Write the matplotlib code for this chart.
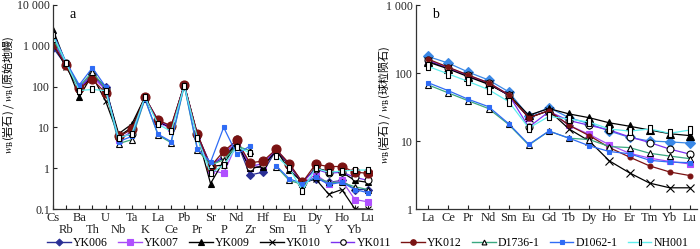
import numpy as np
import matplotlib
matplotlib.use('Agg')
import matplotlib.pyplot as plt
from matplotlib.ticker import FixedLocator, FuncFormatter, NullLocator

plt.rcParams['font.family'] = ['Liberation Serif', 'DejaVu Serif']
plt.rcParams['mathtext.fontset'] = 'stix'

nan = np.nan

# ---------------- data ----------------
pm_elements = ['Cs', 'Rb', 'Ba', 'Th', 'U', 'Nb', 'Ta', 'K', 'La', 'Ce', 'Pb', 'Pr', 'Sr',
               'P', 'Nd', 'Zr', 'Hf', 'Sm', 'Eu', 'Ti', 'Dy', 'Y', 'Ho', 'Yb', 'Lu']
ree_elements = ['La', 'Ce', 'Pr', 'Nd', 'Sm', 'Eu', 'Gd', 'Tb', 'Dy', 'Ho', 'Er', 'Tm', 'Yb', 'Lu']
sample_names = ['YK006', 'YK007', 'YK009', 'YK010', 'YK011', 'YK012', 'D1736-1', 'D1062-1', 'NH001']

# primitive-mantle normalised
YK006_pm = [900, 330, 95, 200, 100, 6.0, 9.0, 55, 14, 10, 110, 6.5, 1.2, 1.8, 4.5, 0.68, 0.80, 2.8, 1.2, 0.42, 0.55, 0.45, 0.50, 0.30, 0.30]
YK007_pm = [1200, 350, 90, 170, 85, 5.0, 8.0, 55, 13, 9.5, 105, 6.0, 0.90, 0.75, 4.0, 1.0, 1.15, 2.7, 1.2, 0.42, 0.70, 0.42, 0.50, 0.17, 0.15]
YK009_pm = [2500, 360, 55, 200, 90, 7.0, 12, 55, 14, 10, 110, 6.5, 0.42, 1.5, 4.5, 1.0, 1.1, 2.8, 0.90, 0.45, 1.0, 0.85, 0.80, 0.50, 0.45]
YK010_pm = [1100, 300, 85, 180, 45, 6.0, 10, 55, 14, 10, 105, 6.5, 1.1, 1.2, 4.2, 1.0, 1.1, 2.7, 1.2, 0.45, 0.55, 0.23, 0.30, 0.10, 0.10]
YK011_pm = [1300, 370, 90, 200, 85, 5.5, 7.0, 55, 15, 10, 110, 6.5, 1.2, 2.0, 5.3, 1.1, 1.3, 2.9, 1.25, 0.45, 0.95, 0.75, 0.80, 0.60, 0.50]
YK012_pm = [1100, 330, 90, 150, 70, 6.0, 9.0, 55, 15, 11, 110, 7.0, 1.1, 2.6, 4.8, 1.35, 1.5, 2.9, 1.3, 0.45, 1.25, 1.1, 1.1, 0.80, 0.75]
D1736_pm = [1500, 380, 100, 230, 90, 4.0, 5.0, 50, 6.5, 4.2, 105, 2.8, 1.2, 1.6, 3.5, 2.7, nan, 1.1, 0.50, 0.40, 0.60, 0.45, 0.45, 0.35, 0.30]
D1062_pm = [2000, 400, 110, 290, 100, 4.5, 6.0, 50, 6.8, 4.5, 110, 3.0, 1.4, 10, 2.2, 3.5, nan, 1.15, 0.55, 0.42, 0.60, 0.40, 0.45, 0.30, 0.25]
NH001_pm = [1800, 380, 80, 85, 80, 5.5, 7.0, 55, 12, 8.0, 105, 5.5, 0.75, 1.2, 3.3, 2.4, nan, 2.0, 1.0, 0.28, 1.0, 0.80, 0.85, 0.90, 0.90]

# chondrite normalised
YK006_ch = [175, 140, 103, 79, 53, 23, 31, 22, 18, 14, 11.3, 10, 9.7, 9.3]
YK007_ch = [150, 118, 90, 70, 47, 22, 28, 17, 12.5, 8.8, 6.6, 5.6, 5.0, 4.6]
YK009_ch = [145, 115, 88, 68, 48, 24, 30, 25, 22, 18.5, 16.5, 14.5, 12.8, 12]
YK010_ch = [150, 118, 90, 70, 47, 22, 28, 15, 10, 5.1, 3.4, 2.4, 2.05, 2.05]
YK011_ch = [155, 120, 92, 72, 48, 16, 27, 20, 17, 14.5, 11.5, 9.5, 7.6, 6.4]
YK012_ch = [160, 122, 93, 72, 48, 22, 28, 17, 12, 8.0, 5.8, 4.3, 3.5, 3.1]
D1736_ch = [67, 51, 39, 30, 17.5, 8.7, 14, 11, 10.5, 8.3, 8.0, 6.6, 6.0, 5.5]
D1062_ch = [72, 55, 41, 32, 18, 8.9, 14, 11, 8.5, 7.0, 6.5, 5.2, 4.9, 4.8]
NH001_ch = [125, 97, 75, 57, 38, 15.5, 23, 21, 19, 15, 14, 15, 13, 14.5]

pm_data = [YK006_pm, YK007_pm, YK009_pm, YK010_pm, YK011_pm, YK012_pm, D1736_pm, D1062_pm, NH001_pm]
ch_data = [YK006_ch, YK007_ch, YK009_ch, YK010_ch, YK011_ch, YK012_ch, D1736_ch, D1062_ch, NH001_ch]

# ---------------- styles ----------------
rect = [(-0.45, -1), (0.45, -1), (0.45, 1), (-0.45, 1), (-0.45, -1)]
styles = [
    dict(color='#2a2f95', marker='D', mfc='#2a2f95', mec='#2a2f95'),
    dict(color='#a64cf5', marker='s', mfc='#b050ff', mec='#b050ff'),
    dict(color='black', marker='^', mfc='black', mec='black'),
    dict(color='black', marker='x', mfc='none', mec='black'),
    dict(color='#7b30f0', marker='o', mfc='white', mec='black'),
    dict(color='#7a1212', marker='o', mfc='#7a1212', mec='#7a1212'),
    dict(color='#3aa880', marker='^', mfc='white', mec='black'),
    dict(color='#2f6cf5', marker='s', mfc='#2f6cf5', mec='#2f6cf5'),
    dict(color='#5eeeee', marker=rect, mfc='white', mec='black'),
]
ms_left = [4, 5, 5, 5, 5, 6.5, 4, 3, 5]
ms_right = [5.5, 5, 5.5, 5.5, 5, 3.5, 4.5, 3.5, 5.5]
right_colors = ['#3a88e6', None, None, None, None, None, None, None, None]
legend_ms = [3.5, 4, 4, 4, 4, 4, 3.5, 3, 4.5]

# ---------------- figure ----------------
W, H = 700, 249
fig = plt.figure(figsize=(W / 100, H / 100), dpi=100)
axL = fig.add_axes([53 / W, 1 - 209 / H, (372 - 53) / W, (209 - 5) / H])
axR = fig.add_axes([416 / W, 1 - 209 / H, (697 - 416) / W, (209 - 5) / H])

xL = np.arange(len(pm_elements))
xR = np.arange(len(ree_elements))

handles = []
for i, name in enumerate(sample_names):
    st = dict(styles[i])
    axL.plot(xL, pm_data[i], lw=0.9, ms=ms_left[i], mew=0.8, **st)
    handles.append(plt.Line2D([], [], lw=1.0, ms=legend_ms[i], mew=0.8, label=name, **st))
    st2 = dict(styles[i])
    if right_colors[i]:
        st2['color'] = right_colors[i]
        st2['mfc'] = right_colors[i]
        st2['mec'] = right_colors[i]
    axR.plot(xR, ch_data[i], lw=0.9, ms=ms_right[i], mew=0.8, **st2)


def fmt(v, pos):
    if v < 1:
        return '0.1'
    return '{:,.0f}'.format(v).replace(',', ' ')


for ax in (axL, axR):
    ax.set_yscale('log')
    ax.yaxis.set_major_formatter(FuncFormatter(fmt))
    ax.yaxis.set_minor_locator(NullLocator())
    for s in ('top', 'right'):
        ax.spines[s].set_visible(False)
    for s in ('left', 'bottom'):
        ax.spines[s].set_linewidth(0.9)
        ax.spines[s].set_color('#333333')
    ax.tick_params(axis='both', which='both', direction='in', length=3, width=0.8,
                   labelsize=9, colors='#222222')
    ax.tick_params(axis='y', labelsize=8.5, pad=2)
    ax.set_facecolor('white')

axL.set_ylim(0.1, 10000)
axL.set_yticks([0.1, 1, 10, 100, 1000, 10000])
axL.set_yticklabels(['0.1', '1', '10', '100', '1 000', '10 000'])
axL.set_xlim(0, 24.3)
axL.xaxis.set_major_locator(FixedLocator(xL[0::2]))
axL.xaxis.set_minor_locator(FixedLocator(xL[1::2]))
axL.set_xticklabels(pm_elements[0::2])
axL.set_xticklabels(pm_elements[1::2], minor=True)
axL.tick_params(axis='x', which='major', pad=2.5)
axL.tick_params(axis='x', which='minor', pad=10.5, labelsize=9)
axL.yaxis.set_minor_locator(NullLocator())

axR.set_ylim(1, 1000)
axR.set_yticks([1, 10, 100, 1000])
axR.set_yticklabels(['1', '10', '100', '1 000'])
axR.set_xlim(-0.6, 13.35)
axR.set_xticks(xR)
axR.set_xticklabels(ree_elements)
axR.tick_params(axis='x', which='major', pad=2.5)

axL.text(0.053, 0.985, 'a', transform=axL.transAxes, fontsize=10, va='top', ha='left')
axR.text(0.057, 0.985, 'b', transform=axR.transAxes, fontsize=10, va='top', ha='left')

lab_kw = dict(fontsize=8, family=['Noto Sans CJK SC'], rotation=90, va='center', ha='center')
fig.text(8 / W, 1 - 95 / H, r'$w_{\mathrm{B}}$(岩石) / $w_{\mathrm{B}}$(原始地幔)', **lab_kw)
fig.text(384 / W, 1 - 105 / H, r'$w_{\mathrm{B}}$(岩石) / $w_{\mathrm{B}}$(球粒陨石)', **lab_kw)

fig.legend(handles=handles, loc='center', bbox_to_anchor=(368 / W, 1 - 243 / H), ncol=9,
           frameon=False, fontsize=8.5, handlelength=2.0, handletextpad=0.2,
           columnspacing=0.85, borderaxespad=0, borderpad=0)

fig.savefig('out.png', dpi=100, facecolor='white')
